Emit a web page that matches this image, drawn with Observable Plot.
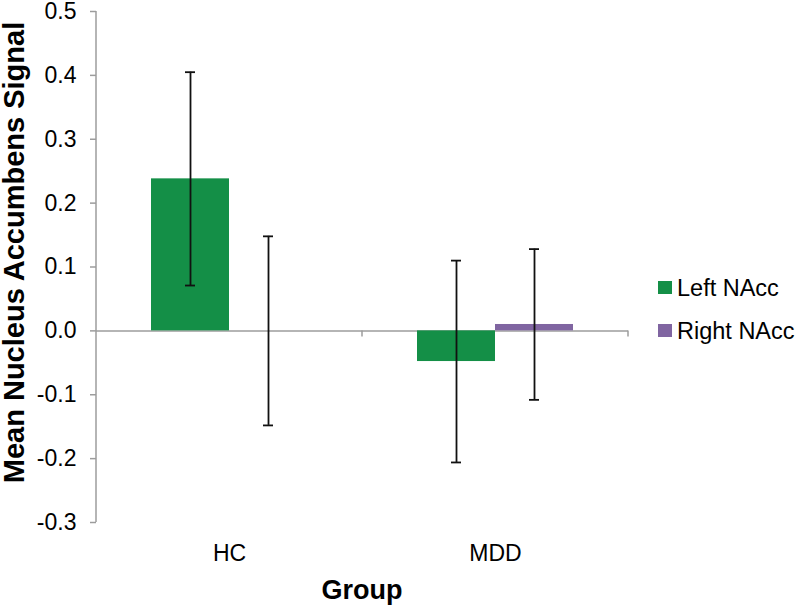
<!DOCTYPE html>
<html>
<head>
<meta charset="utf-8">
<script src="https://cdn.jsdelivr.net/npm/d3@7"></script>
<script src="https://cdn.jsdelivr.net/npm/@observablehq/plot@0.6"></script>
<style>
  html, body { margin: 0; padding: 0; background: #fff; }
  #chart { width: 800px; height: 606px; }
</style>
</head>
<body>
<div id="chart"></div>
<script>
const groups = ["HC", "MDD"];
const series = ["Left NAcc", "Right NAcc"];
const leftMeans = [0.238, -0.048];
const leftErrors = [0.167, 0.158];
const rightMeans = [0.000, 0.010];
const rightErrors = [0.148, 0.118];
const yTicks = [-0.3, -0.2, -0.1, 0.0, 0.1, 0.2, 0.3, 0.4, 0.5];
const colors = ["#148f47", "#8065a1"];
const yTitle = "Mean Nucleus Accumbens Signal";
const xTitle = "Group";

const rows = groups.flatMap((g, i) => [
  {group: g, series: series[0], mean: leftMeans[i], err: leftErrors[i]},
  {group: g, series: series[1], mean: rightMeans[i], err: rightErrors[i]}
]);

const FONT = "'Liberation Sans', Arial, sans-serif";

const plot = Plot.plot({
  width: 800,
  height: 606,
  marginTop: 11,
  marginBottom: 84,
  marginLeft: 95,
  marginRight: 172,
  style: {fontFamily: FONT, fontSize: "23px", color: "#000", background: "#fff"},
  fx: {domain: groups, padding: 0, label: null, tickSize: 0, tickPadding: 22},
  x: {domain: series, paddingInner: 0, paddingOuter: 0.705, axis: null},
  y: {domain: [-0.3, 0.5], ticks: yTicks, tickFormat: d => d.toFixed(1), label: null, tickSize: 6, tickPadding: 14},
  color: {domain: series, range: colors},
  marks: [
    Plot.ruleY([0], {stroke: "#9c9c9c", strokeWidth: 1.5}),
    Plot.barY(rows, {fx: "group", x: "series", y: "mean", fill: "series"}),
    Plot.ruleX(rows, {fx: "group", x: "series", y1: d => d.mean - d.err, y2: d => d.mean + d.err, stroke: "#111", strokeWidth: 1.8}),
    Plot.tickY(rows, {fx: "group", x: "series", y: d => d.mean + d.err, stroke: "#111", strokeWidth: 1.8, insetLeft: 34, insetRight: 34}),
    Plot.tickY(rows, {fx: "group", x: "series", y: d => d.mean - d.err, stroke: "#111", strokeWidth: 1.8, insetLeft: 34, insetRight: 34})
  ]
});

document.getElementById("chart").appendChild(plot);

// axis decorations using the plot's own scales
const svg = d3.select(plot);
const fx = plot.scale("fx");
const y = plot.scale("y");
const left = fx.apply(groups[0]);
const y0 = y.apply(0);

svg.selectAll("g[aria-label^='y-axis'] text, g[aria-label^='fx-axis'] text")
  .attr("font-size", 23).style("font-size", "23px").attr("fill", "#000");
svg.selectAll("g[aria-label^='y-axis'] path, g[aria-label^='y-axis'] line")
  .attr("stroke", "#9c9c9c").attr("stroke-width", 1.5);

svg.append("line")
  .attr("x1", left).attr("x2", left)
  .attr("y1", y.apply(0.5)).attr("y2", y.apply(-0.3))
  .attr("stroke", "#9c9c9c").attr("stroke-width", 1.5);
groups.forEach(g => {
  const xr = fx.apply(g) + fx.bandwidth;
  svg.append("line")
    .attr("x1", xr).attr("x2", xr).attr("y1", y0).attr("y2", y0 + 6)
    .attr("stroke", "#9c9c9c").attr("stroke-width", 1.5);
});

// axis titles
svg.append("text")
  .attr("transform", `translate(24, ${(y.apply(0.5) + y.apply(-0.3)) / 2 - 14}) rotate(-90)`)
  .attr("text-anchor", "middle")
  .attr("font-family", FONT).attr("font-weight", "bold").attr("font-size", 29)
  .style("font-size", "29px")
  .attr("fill", "#000")
  .text(yTitle);
svg.append("text")
  .attr("x", fx.apply(groups[1]))
  .attr("y", 599)
  .attr("text-anchor", "middle")
  .attr("font-family", FONT).attr("font-weight", "bold").attr("font-size", 27)
  .style("font-size", "27px")
  .attr("fill", "#000")
  .text(xTitle);

// legend
const legendX = 658;
const legendY = [281, 324];
series.forEach((s, i) => {
  svg.append("rect")
    .attr("x", legendX).attr("y", legendY[i]).attr("width", 14).attr("height", 13)
    .attr("fill", colors[i]);
  svg.append("text")
    .attr("x", legendX + 19).attr("y", legendY[i] + 15)
    .attr("text-anchor", "start")
    .attr("font-family", FONT).attr("font-size", 23.5).style("font-size", "23.5px")
    .attr("fill", "#000")
    .text(s);
});
</script>
</body>
</html>
